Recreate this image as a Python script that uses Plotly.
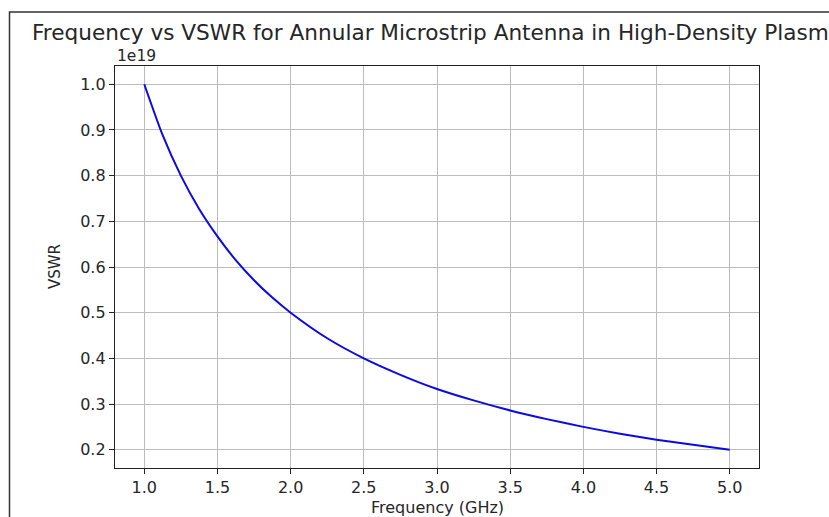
import plotly.graph_objects as go

# Data (VSWR in units of 1e19)
freq_ghz = [1.0, 1.125, 1.25, 1.375, 1.5, 1.625, 1.75, 1.875, 2.0, 2.25, 2.5, 2.75,
            3.0, 3.25, 3.5, 3.75, 4.0, 4.25, 4.5, 4.75, 5.0]
vswr_e19 = [1.0, 0.889, 0.80, 0.727, 0.667, 0.615, 0.571, 0.533, 0.50, 0.444, 0.40, 0.364,
            0.333, 0.308, 0.286, 0.267, 0.25, 0.235, 0.222, 0.211, 0.20]
x_ticks = [1.0, 1.5, 2.0, 2.5, 3.0, 3.5, 4.0, 4.5, 5.0]
y_ticks = [0.2, 0.3, 0.4, 0.5, 0.6, 0.7, 0.8, 0.9, 1.0]
title_text = "Frequency vs VSWR for Annular Microstrip Antenna in High-Density Plasma"
x_label = "Frequency (GHz)"
y_label = "VSWR"
offset_text = "1e19"

W, H = 829, 517
L, R, T, B = 115, 70, 66, 49
pw, ph = W - L - R, H - T - B

def px(x):
    return (x - L) / pw

def py(y):
    return (H - B - y) / ph

FONT = "DejaVu Sans"
TXT = "#262626"

fig = go.Figure()
fig.add_trace(go.Scatter(x=freq_ghz, y=vswr_e19, mode="lines",
                         line=dict(color="#0a0ae6", width=2, shape="spline", smoothing=0.6),
                         hoverinfo="skip", showlegend=False))

axis_common = dict(showline=True, mirror=True, linecolor="#222222", linewidth=1.3,
                   ticks="outside", ticklen=5, tickwidth=1.1, tickcolor="#222222",
                   showgrid=True, gridcolor="#bdbdbd", gridwidth=1, zeroline=False,
                   tickfont=dict(family=FONT, size=16, color=TXT))

fig.update_layout(
    width=W, height=H,
    margin=dict(l=L, r=R, t=T, b=B, pad=0),
    paper_bgcolor="white", plot_bgcolor="white",
    xaxis=dict(range=[0.8, 5.2], tickvals=x_ticks, tickformat=".1f", **axis_common),
    yaxis=dict(range=[0.16, 1.04], tickvals=y_ticks, tickformat=".1f", **axis_common),
    shapes=[dict(type="rect", xref="paper", yref="paper",
                 x0=px(9.5), x1=px(860), y0=py(12), y1=py(560),
                 line=dict(color="#333333", width=1.5), fillcolor="rgba(0,0,0,0)", layer="below")],
    annotations=[
        dict(text=title_text, xref="paper", yref="paper", x=0.5, y=py(32),
             xanchor="center", yanchor="middle", showarrow=False,
             font=dict(family=FONT, size=21.6, color=TXT)),
        dict(text=offset_text, xref="paper", yref="paper", x=0, y=py(56),
             xanchor="left", yanchor="middle", showarrow=False,
             font=dict(family=FONT, size=15.5, color=TXT)),
        dict(text=x_label, xref="paper", yref="paper", x=0.5, y=py(507),
             xanchor="center", yanchor="middle", showarrow=False,
             font=dict(family=FONT, size=16, color=TXT)),
        dict(text=y_label, xref="paper", yref="paper", x=px(55), y=0.5,
             xanchor="center", yanchor="middle", showarrow=False, textangle=-90,
             font=dict(family=FONT, size=15, color=TXT)),
    ],
)

fig.write_html("out.html")
